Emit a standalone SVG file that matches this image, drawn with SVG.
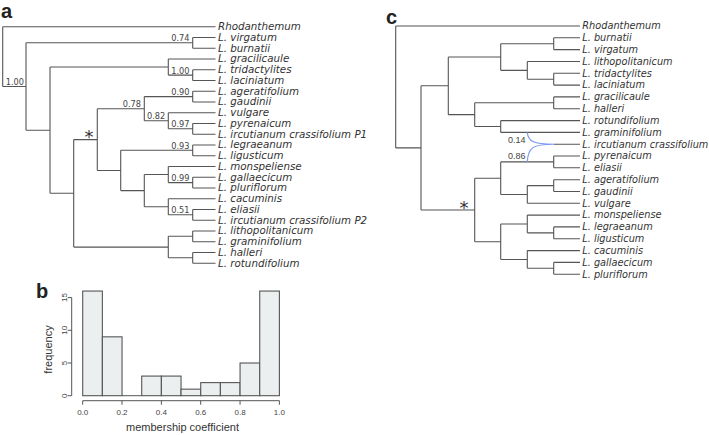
<svg xmlns="http://www.w3.org/2000/svg" width="709" height="435" viewBox="0 0 709 435">
<style>
.br{fill:none;stroke:#555;stroke-width:1.1}
.hy{fill:none;stroke:#7a97f5;stroke-width:1.1}
.la{font-family:"DejaVu Sans",sans-serif;font-style:italic;font-size:10.3px;fill:#333}
.lc{font-family:"DejaVu Sans",sans-serif;font-style:italic;font-size:9.75px;fill:#333}
.sup{font-family:"DejaVu Sans",sans-serif;font-size:8.2px;fill:#444;text-anchor:end}
.supc{font-family:"Liberation Sans",Arial,sans-serif;font-size:9px;fill:#444;text-anchor:end}
.pl{font-family:"Liberation Sans",Arial,sans-serif;font-weight:bold;font-size:20px;fill:#222}
.star{font-family:"DejaVu Sans",sans-serif;font-size:18px;fill:#333;text-anchor:middle}
.bar{fill:#eceff0;stroke:#555;stroke-width:1.1}
.ax{fill:none;stroke:#555;stroke-width:1}
.tk{font-family:"Liberation Sans",Arial,sans-serif;font-size:8px;fill:#444;text-anchor:middle}
.at{font-family:"Liberation Sans",Arial,sans-serif;font-size:11px;fill:#333;text-anchor:middle}
</style>

<!-- Panel a -->
<text class="pl" x="1" y="18">a</text>
<g id="connectors-a">
<path class="br" d="M2.7,26.7V86.5M2.7,26.7H215.5M2.7,86.5H26
M26,42.8V130.2M26,42.8H192.7M26,130.2H50
M192.7,37.45V48.2M192.7,37.45H215.5M192.7,48.2H215.5
M50,67V193.3M50,67H168.3M50,193.3H73.7
M168.3,58.95V75.1M168.3,58.95H215.5M168.3,75.1H192.7
M192.7,69.7V80.45M192.7,69.7H215.5M192.7,80.45H215.5
M73.7,139.6V247.1M73.7,139.6H97.3M73.7,247.1H168.3
M97.3,108.7V170.5M97.3,108.7H144.3M97.3,170.5H120.7
M144.3,96.6V120.8M144.3,96.6H192.7M144.3,120.8H168.3
M192.7,91.2V101.95M192.7,91.2H215.5M192.7,101.95H215.5
M168.3,112.7V128.8M168.3,112.7H215.5M168.3,128.8H192.7
M192.7,123.45V134.2M192.7,123.45H215.5M192.7,134.2H215.5
M120.7,150.3V190.6M120.7,150.3H192.7M120.7,190.6H144.3
M192.7,144.95V155.7M192.7,144.95H215.5M192.7,155.7H215.5
M144.3,174.5V206.8M144.3,174.5H168.3M144.3,206.8H168.3
M168.3,166.45V182.6M168.3,166.45H215.5M168.3,182.6H192.7
M192.7,177.2V187.95M192.7,177.2H215.5M192.7,187.95H215.5
M168.3,198.7V214.8M168.3,198.7H215.5M168.3,214.8H192.7
M192.7,209.45V220.2M192.7,209.45H215.5M192.7,220.2H215.5
M168.3,236.3V257.8M168.3,236.3H192.7M168.3,257.8H192.7
M192.7,230.95V241.7M192.7,230.95H215.5M192.7,241.7H215.5
M192.7,252.45V263.2M192.7,252.45H215.5M192.7,263.2H215.5"/>
</g>
<g id="support-a">
<text class="sup" x="24" y="85">1.00</text>
<text class="sup" x="189.5" y="41.2">0.74</text>
<text class="sup" x="189.5" y="73.5">1.00</text>
<text class="sup" x="189.5" y="95">0.90</text>
<text class="sup" x="141" y="107">0.78</text>
<text class="sup" x="165.3" y="119.2">0.82</text>
<text class="sup" x="189.5" y="127.2">0.97</text>
<text class="sup" x="189.5" y="148.7">0.93</text>
<text class="sup" x="189.5" y="181">0.99</text>
<text class="sup" x="189.5" y="213.2">0.51</text>
<text class="star" x="89" y="143">*</text>
</g>
<g id="leaves-a">
<g id="a-rhodanthemum"><text class="la" x="218" y="30.2">Rhodanthemum</text></g>
<g id="a-virgatum"><text class="la" x="218" y="40.95">L. virgatum</text></g>
<g id="a-burnatii"><text class="la" x="218" y="51.7">L. burnatii</text></g>
<g id="a-gracilicaule"><text class="la" x="218" y="62.45">L. gracilicaule</text></g>
<g id="a-tridactylites"><text class="la" x="218" y="73.2">L. tridactylites</text></g>
<g id="a-laciniatum"><text class="la" x="218" y="83.95">L. laciniatum</text></g>
<g id="a-ageratifolium"><text class="la" x="218" y="94.7">L. ageratifolium</text></g>
<g id="a-gaudinii"><text class="la" x="218" y="105.45">L. gaudinii</text></g>
<g id="a-vulgare"><text class="la" x="218" y="116.2">L. vulgare</text></g>
<g id="a-pyrenaicum"><text class="la" x="218" y="126.95">L. pyrenaicum</text></g>
<g id="a-ircutianum-p1"><text class="la" x="218" y="137.7">L. ircutianum crassifolium P1</text></g>
<g id="a-legraeanum"><text class="la" x="218" y="148.45">L. legraeanum</text></g>
<g id="a-ligusticum"><text class="la" x="218" y="159.2">L. ligusticum</text></g>
<g id="a-monspeliense"><text class="la" x="218" y="169.95">L. monspeliense</text></g>
<g id="a-gallaecicum"><text class="la" x="218" y="180.7">L. gallaecicum</text></g>
<g id="a-pluriflorum"><text class="la" x="218" y="191.45">L. pluriflorum</text></g>
<g id="a-cacuminis"><text class="la" x="218" y="202.2">L. cacuminis</text></g>
<g id="a-eliasii"><text class="la" x="218" y="212.95">L. eliasii</text></g>
<g id="a-ircutianum-p2"><text class="la" x="218" y="223.7">L. ircutianum crassifolium P2</text></g>
<g id="a-lithopolitanicum"><text class="la" x="218" y="234.45">L. lithopolitanicum</text></g>
<g id="a-graminifolium"><text class="la" x="218" y="245.2">L. graminifolium</text></g>
<g id="a-halleri"><text class="la" x="218" y="255.95">L. halleri</text></g>
<g id="a-rotundifolium"><text class="la" x="218" y="266.7">L. rotundifolium</text></g>
</g>

<!-- Panel c -->
<text class="pl" x="386" y="23.5">c</text>
<g id="connectors-c">
<path class="br" d="M395.7,26V147.9M395.7,26H580M395.7,147.9H421
M421,85.8V209.95M421,85.8H448.3M421,209.95H474.7
M448.3,57V114.65M448.3,57H500.7M448.3,114.65H474.7
M500.7,43.7V70.35M500.7,43.7H553.7M500.7,70.35H527.3
M553.7,37.8V49.6M553.7,37.8H580M553.7,49.6H580
M527.3,61.5V79.2M527.3,61.5H580M527.3,79.2H553.7
M553.7,73.3V85.1M553.7,73.3H580M553.7,85.1H580
M474.7,102.8V126.5M474.7,102.8H553.7M474.7,126.5H500.7
M553.7,96.9V108.7M553.7,96.9H580M553.7,108.7H580
M500.7,120.6V132.4M500.7,120.6H580M500.7,132.4H580
M553.7,144.2H580
M474.7,178.2V241.7M474.7,178.2H500.7M474.7,241.7H500.7
M500.7,161.9V194.45M500.7,161.9H553.7M500.7,194.45H527.3
M553.7,156V167.8M553.7,156H580M553.7,167.8H580
M527.3,185.6V203.3M527.3,185.6H553.7M527.3,203.3H580
M553.7,179.7V191.5M553.7,179.7H580M553.7,191.5H580
M500.7,224V259.45M500.7,224H527.3M500.7,259.45H527.3
M527.3,215.1V232.85M527.3,215.1H580M527.3,232.85H553.7
M553.7,226.9V238.8M553.7,226.9H580M553.7,238.8H580
M527.3,250.6V268.3M527.3,250.6H580M527.3,268.3H553.7
M553.7,262.4V274.2M553.7,262.4H580M553.7,274.2H580"/>
<path class="hy" d="M527.3,132.4C528,141 533,144.2 553.7,144.2M527.3,161.9C528,147.4 533,144.2 553.7,144.2"/>
</g>
<g id="support-c">
<text class="supc" x="525.5" y="143">0.14</text>
<text class="supc" x="525.5" y="158.7">0.86</text>
<text class="star" x="464" y="214">*</text>
</g>
<g id="leaves-c">
<g id="c-rhodanthemum"><text class="lc" x="582.3" y="29.3">Rhodanthemum</text></g>
<g id="c-burnatii"><text class="lc" x="582.3" y="41.1">L. burnatii</text></g>
<g id="c-virgatum"><text class="lc" x="582.3" y="52.9">L. virgatum</text></g>
<g id="c-lithopolitanicum"><text class="lc" x="582.3" y="64.8">L. lithopolitanicum</text></g>
<g id="c-tridactylites"><text class="lc" x="582.3" y="76.6">L. tridactylites</text></g>
<g id="c-laciniatum"><text class="lc" x="582.3" y="88.4">L. laciniatum</text></g>
<g id="c-gracilicaule"><text class="lc" x="582.3" y="100.2">L. gracilicaule</text></g>
<g id="c-halleri"><text class="lc" x="582.3" y="112">L. halleri</text></g>
<g id="c-rotundifolium"><text class="lc" x="582.3" y="123.9">L. rotundifolium</text></g>
<g id="c-graminifolium"><text class="lc" x="582.3" y="135.7">L. graminifolium</text></g>
<g id="c-ircutianum"><text class="lc" x="582.3" y="147.5">L. ircutianum crassifolium</text></g>
<g id="c-pyrenaicum"><text class="lc" x="582.3" y="159.3">L. pyrenaicum</text></g>
<g id="c-eliasii"><text class="lc" x="582.3" y="171.1">L. eliasii</text></g>
<g id="c-ageratifolium"><text class="lc" x="582.3" y="183">L. ageratifolium</text></g>
<g id="c-gaudinii"><text class="lc" x="582.3" y="194.8">L. gaudinii</text></g>
<g id="c-vulgare"><text class="lc" x="582.3" y="206.6">L. vulgare</text></g>
<g id="c-monspeliense"><text class="lc" x="582.3" y="218.4">L. monspeliense</text></g>
<g id="c-legraeanum"><text class="lc" x="582.3" y="230.2">L. legraeanum</text></g>
<g id="c-ligusticum"><text class="lc" x="582.3" y="242.1">L. ligusticum</text></g>
<g id="c-cacuminis"><text class="lc" x="582.3" y="253.9">L. cacuminis</text></g>
<g id="c-gallaecicum"><text class="lc" x="582.3" y="265.7">L. gallaecicum</text></g>
<g id="c-pluriflorum"><text class="lc" x="582.3" y="277.5">L. pluriflorum</text></g>
</g>

<!-- Panel b -->
<text class="pl" x="36" y="298">b</text>
<g id="histogram">
<rect class="bar" x="82.7" y="291.06" width="19.67" height="104.64"/>
<rect class="bar" x="102.37" y="336.84" width="19.67" height="58.86"/>
<line class="ax" x1="122.04" y1="395.7" x2="141.71" y2="395.7"/>
<rect class="bar" x="141.71" y="376.08" width="19.67" height="19.62"/>
<rect class="bar" x="161.38" y="376.08" width="19.67" height="19.62"/>
<rect class="bar" x="181.05" y="389.16" width="19.67" height="6.54"/>
<rect class="bar" x="200.72" y="382.62" width="19.67" height="13.08"/>
<rect class="bar" x="220.39" y="382.62" width="19.67" height="13.08"/>
<rect class="bar" x="240.06" y="363" width="19.67" height="32.7"/>
<rect class="bar" x="259.73" y="291.06" width="19.67" height="104.64"/>
</g>
<g id="axes-b">
<path class="ax" d="M71.7,395.7V297.6M71.7,395.7H67.7M71.7,363H67.7M71.7,330.3H67.7M71.7,297.6H67.7"/>
<path class="ax" d="M82.7,400.7H279.4M82.7,400.7V404.7M122,400.7V404.7M161.4,400.7V404.7M200.7,400.7V404.7M240.06,400.7V404.7M279.4,400.7V404.7"/>
<text class="tk" transform="translate(66.5,395.7) rotate(-90)">0</text>
<text class="tk" transform="translate(66.5,363) rotate(-90)">5</text>
<text class="tk" transform="translate(66.5,330.3) rotate(-90)">10</text>
<text class="tk" transform="translate(66.5,297.6) rotate(-90)">15</text>
<text class="tk" x="82.7" y="415">0.0</text>
<text class="tk" x="122" y="415">0.2</text>
<text class="tk" x="161.4" y="415">0.4</text>
<text class="tk" x="200.7" y="415">0.6</text>
<text class="tk" x="240.06" y="415">0.8</text>
<text class="tk" x="279.4" y="415">1.0</text>
<text class="at" transform="translate(52,349.5) rotate(-90)">frequency</text>
<text class="at" x="182.5" y="431">membership coefficient</text>
</g>
</svg>
